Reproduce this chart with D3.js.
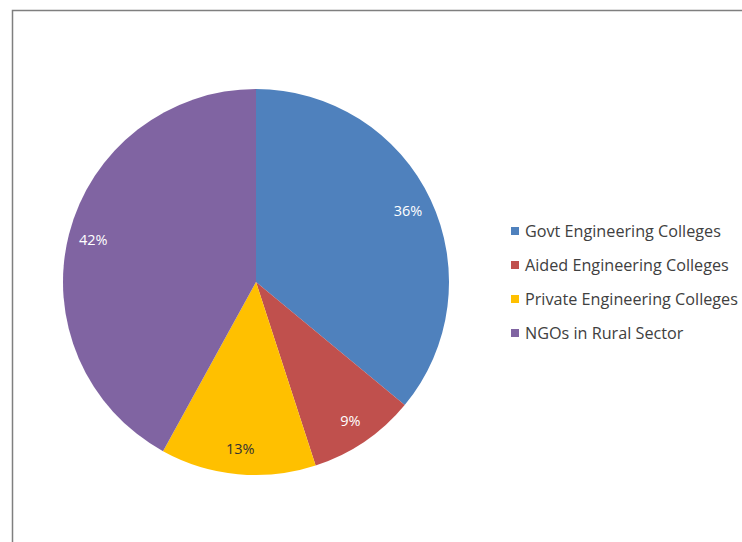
<!DOCTYPE html>
<html><head><meta charset="utf-8">
<script src="https://cdn.jsdelivr.net/npm/d3@7"></script>
<style>body{margin:0;background:#fff}svg{display:block}</style>
</head><body>
<script>
const categories = ["Govt Engineering Colleges","Aided Engineering Colleges","Private Engineering Colleges","NGOs in Rural Sector"];
const values = [36, 9, 13, 42];
const labels = ["36%","9%","13%","42%"];
const colors = ["#4F81BD","#C0504D","#FFC000","#8064A2"];
const labelColors = ["#ffffff","#ffffff","#333333","#ffffff"];

const W = 742, H = 542;
const FONT = "'Open Sans', 'DejaVu Sans', sans-serif";
const svg = d3.select("body").append("svg").attr("width", W).attr("height", H);
svg.append("rect").attr("width", W).attr("height", H).attr("fill", "#fff");
svg.append("rect").attr("x", 12.5).attr("y", 10.5).attr("width", W).attr("height", H)
  .attr("fill", "none").attr("stroke", "#7f7f7f").attr("stroke-width", 1.5);

const cx = 256, cy = 282, R = 193;
const pie = d3.pie().sort(null).value(d => d);
const arcs = pie(values);
const arc = d3.arc().innerRadius(0).outerRadius(R);
const labelArc = d3.arc().innerRadius(168).outerRadius(168);
const g = svg.append("g").attr("transform", `translate(${cx},${cy})`);
g.selectAll("path").data(arcs).join("path")
  .attr("d", arc).attr("fill", (d, i) => colors[i]);
g.selectAll("text").data(arcs).join("text")
  .attr("transform", d => `translate(${labelArc.centroid(d)})`)
  .attr("text-anchor", "middle").attr("dy", "0.35em")
  .attr("font-family", FONT).attr("font-size", 14.5)
  .attr("fill", (d, i) => labelColors[i])
  .text((d, i) => labels[i]);

const lg = svg.append("g");
const rowY = d3.scalePoint().domain(categories).range([231, 333]);
const texts = [];
categories.forEach((c, i) => {
  const y = rowY(c);
  lg.append("rect").attr("x", 511).attr("y", y - 4).attr("width", 8).attr("height", 8).attr("fill", colors[i]);
  texts.push(lg.append("text").attr("x", 525).attr("y", y).attr("dy", "0.35em")
    .attr("font-family", FONT).attr("font-size", 14)
    .attr("fill", "#404040").text(c));
});
// fit font so the longest entry spans the width seen in the reference
const w = texts[2].node().getComputedTextLength();
const fs = 14 * 213 / w;
texts.forEach(t => t.attr("font-size", fs));
</script>
</body></html>
